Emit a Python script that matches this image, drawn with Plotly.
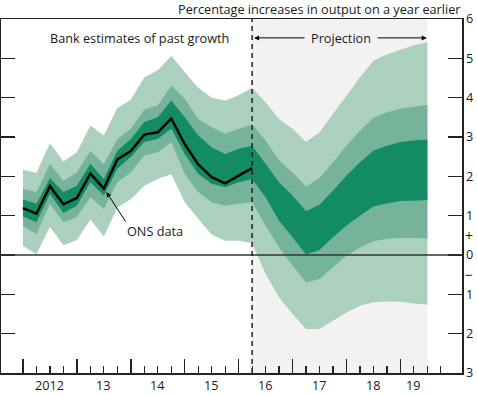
import plotly.graph_objects as go

# Quarter index: 0 = 2012 Q1 ... 30 = 2019 Q3
quarter_index = list(range(31))
ons_quarters = list(range(18))
projection_start = 17
projection_end = 30

ons_data = [1.19, 1.05, 1.75, 1.29, 1.45, 2.07, 1.69, 2.43, 2.64, 3.06, 3.12, 3.47,
            2.82, 2.30, 1.98, 1.82, 2.02, 2.21]

light_top = [2.17, 2.09, 2.84, 2.38, 2.61, 3.29, 3.04, 3.74, 3.95, 4.52, 4.70, 5.06,
             4.65, 4.25, 4.00, 3.93, 4.06, 4.25,
             3.88, 3.46, 3.21, 2.87, 3.12, 3.59, 4.05, 4.52, 4.94, 5.10, 5.22, 5.33, 5.41]
medium_top = [1.68, 1.60, 2.32, 1.89, 2.10, 2.65, 2.30, 2.95, 3.21, 3.70, 3.80, 4.31,
              3.97, 3.46, 3.25, 3.08, 3.21, 3.32,
              2.91, 2.40, 2.10, 1.74, 1.96, 2.36, 2.78, 3.16, 3.49, 3.63, 3.72, 3.77, 3.82]
dark_top = [1.41, 1.30, 1.95, 1.60, 1.76, 2.32, 1.93, 2.65, 2.95, 3.38, 3.50, 3.93,
            3.50, 3.04, 2.74, 2.57, 2.70, 2.78,
            2.32, 1.85, 1.51, 1.11, 1.28, 1.64, 2.02, 2.36, 2.65, 2.78, 2.87, 2.91, 2.93]
dark_bottom = [0.98, 0.83, 1.55, 1.07, 1.25, 1.85, 1.51, 2.19, 2.49, 2.87, 2.95, 3.21,
               2.57, 2.06, 1.81, 1.72, 1.85, 1.93,
               1.47, 0.87, 0.45, 0.01, 0.13, 0.45, 0.75, 1.00, 1.23, 1.31, 1.37, 1.38, 1.40]
medium_bottom = [0.73, 0.53, 1.30, 0.83, 0.96, 1.47, 1.17, 1.85, 2.10, 2.53, 2.61, 2.87,
                 2.06, 1.60, 1.34, 1.25, 1.30, 1.34,
                 0.75, 0.19, -0.27, -0.70, -0.61, -0.31, -0.02, 0.19, 0.35, 0.41, 0.43, 0.43, 0.42]
light_bottom = [0.23, 0.02, 0.72, 0.25, 0.38, 0.90, 0.47, 1.21, 1.42, 1.76, 1.93, 2.05,
                1.34, 0.92, 0.52, 0.36, 0.36, 0.30,
                -0.48, -1.08, -1.50, -1.88, -1.88, -1.67, -1.46, -1.29, -1.20, -1.18, -1.19, -1.23, -1.26]

year_labels = ["2012", "13", "14", "15", "16", "17", "18", "19"]
year_label_pos = [2, 6, 10, 14, 18, 22, 26, 29]
year_ticks = [0, 4, 8, 12, 16, 20, 24, 28]
quarter_ticks = [q for q in range(32) if q % 4 != 0]

y_ticks = [-3, -2, -1, 0, 1, 2, 3, 4, 5, 6]
y_tick_text = ["3", "2", "1", "0", "1", "2", "3", "4", "5", "6"]

LIGHT = "rgb(172,208,190)"
MEDIUM = "rgb(117,180,155)"
DARK = "rgb(19,140,100)"
GREY = "rgb(242,242,242)"
FONT = "Open Sans"
FS = 12.7
TXT = "#1a1a1a"

fig = go.Figure()


def band(top, bottom, color):
    xs = quarter_index + quarter_index[::-1]
    ys = top + bottom[::-1]
    fig.add_trace(go.Scatter(x=xs, y=ys, fill="toself", fillcolor=color, mode="none",
                             line=dict(width=0), hoverinfo="skip", showlegend=False))


band(light_top, light_bottom, LIGHT)
band(medium_top, medium_bottom, MEDIUM)
band(dark_top, dark_bottom, DARK)

fig.add_trace(go.Scatter(x=ons_quarters, y=ons_data, mode="lines",
                         line=dict(color="black", width=2.5), showlegend=False))

fig.add_shape(type="rect", xref="x", yref="paper", x0=projection_start, x1=projection_end,
              y0=0, y1=1, fillcolor=GREY, line=dict(width=0), layer="below")
fig.add_shape(type="line", xref="paper", yref="y", x0=0, x1=1, y0=0, y1=0,
              line=dict(color="#333", width=1.5), layer="above")
fig.add_shape(type="line", xref="x", yref="paper", x0=projection_start, x1=projection_start,
              y0=0, y1=1, line=dict(color="#222", width=1.5, dash="5px,4px"), layer="above")

ann = []
for lab, pos in zip(year_labels, year_label_pos):
    ann.append(dict(x=pos, y=0, xref="x", yref="paper", text=lab, showarrow=False,
                    yanchor="top", yshift=-1, font=dict(size=FS, family=FONT, color=TXT)))
ann.append(dict(x=1, y=1, xref="paper", yref="paper", xanchor="right", yanchor="bottom",
                text="Percentage increases in output on a year earlier", showarrow=False,
                yshift=-1, xshift=0, font=dict(size=FS, family=FONT, color=TXT)))
ann.append(dict(x=8.66, y=5.52, xref="x", yref="y", text="Bank estimates of past growth",
                showarrow=False, font=dict(size=FS, family=FONT, color=TXT)))
ann.append(dict(x=23.6, y=5.52, xref="x", yref="y", text="Projection",
                showarrow=False, font=dict(size=FS, family=FONT, color=TXT)))
# projection arrows
ann.append(dict(x=17.15, y=5.52, ax=21.0, ay=5.52, xref="x", yref="y", axref="x", ayref="y",
                text="", showarrow=True, arrowhead=2, arrowsize=1, arrowwidth=1, arrowcolor="black"))
ann.append(dict(x=29.95, y=5.52, ax=26.2, ay=5.52, xref="x", yref="y", axref="x", ayref="y",
                text="", showarrow=True, arrowhead=2, arrowsize=1, arrowwidth=1, arrowcolor="black"))
ann.append(dict(x=9.77, y=0.61, xref="x", yref="y", text="ONS data",
                showarrow=False, font=dict(size=FS, family=FONT, color=TXT)))
ann.append(dict(x=6.19, y=1.60, ax=7.69, ay=0.81, xref="x", yref="y", axref="x", ayref="y",
                text="", showarrow=True, arrowhead=2, arrowsize=1, arrowwidth=1, arrowcolor="black"))
# + / - signs
ann.append(dict(x=1, y=0.5, xref="paper", yref="y", text="+", showarrow=False, xanchor="left",
                xshift=1, font=dict(size=14, family=FONT, color=TXT)))
ann.append(dict(x=1, y=-0.5, xref="paper", yref="y", text="\u2212", showarrow=False, xanchor="left",
                xshift=1, font=dict(size=14, family=FONT, color=TXT)))

fig.update_layout(
    width=477, height=395,
    margin=dict(l=1, r=15, t=19, b=22, autoexpand=False),
    plot_bgcolor="white", paper_bgcolor="white",
    showlegend=False,
    annotations=ann,
    xaxis=dict(range=[-1.63, 32.57], showgrid=False, zeroline=False, showline=True,
               automargin=False,
               linecolor="#222", linewidth=1.5, mirror=True,
               tickmode="array", tickvals=year_ticks, ticktext=[""] * len(year_ticks),
               ticks="inside", ticklen=14, tickcolor="#222", tickwidth=1.5,
               minor=dict(tickmode="array", tickvals=quarter_ticks, ticks="inside",
                          ticklen=7, tickcolor="#222", tickwidth=1.2)),
    yaxis=dict(range=[-3, 6], side="right", showgrid=False, zeroline=False, showline=True,
               automargin=False,
               linecolor="#222", linewidth=1.5, mirror="ticks",
               tickmode="array", tickvals=y_ticks, ticktext=y_tick_text,
               ticks="inside", ticklen=14, tickcolor="#222", tickwidth=1.5,
               tickfont=dict(size=FS, family=FONT, color=TXT)),
)

fig.write_html("out.html", config={"displayModeBar": False, "staticPlot": True},
               post_script="document.body.style.margin='0';document.body.style.overflow='hidden';")
